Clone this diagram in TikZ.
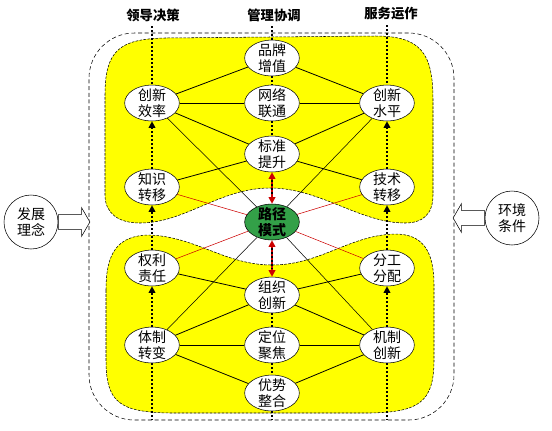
\documentclass[tikz,border=0pt]{standalone}
\usepackage{fontspec}
\newfontfamily\cjk{Noto Sans CJK SC}
\usepackage{tikz}
\usetikzlibrary{positioning, shapes.geometric, shapes.arrows, arrows.meta}
\definecolor{blobyellow}{RGB}{255, 255, 0}
\definecolor{coregreen}{RGB}{51, 160, 72}
\definecolor{linkred}{RGB}{204, 0, 0}

\begin{document}
\begin{tikzpicture}[
    x=0.75pt, y=-0.75pt,
    font=\cjk\fontsize{10.5}{12}\selectfont,
    factor/.style={ellipse, draw=black, fill=white, thin, minimum width=41pt, minimum height=27pt, inner xsep=0pt, inner ysep=-2pt, align=center},
    core/.style={factor, fill=coregreen, font=\cjk\fontsize{10.5}{12}\selectfont\bfseries},
    outside/.style={circle, draw=black, fill=white, thin, minimum size=40.5pt, inner sep=0pt, align=center},
    push/.style={single arrow, draw=black, fill=white, thin, minimum height=23.5pt, inner sep=5.5pt, single arrow head extend=5pt, single arrow tip angle=120},
    heading/.style={font=\cjk\fontsize{10}{12}\selectfont\bfseries},
    blob/.style={fill=blobyellow, draw=black, thin, dash pattern=on 2pt off 1pt},
    frame/.style={rectangle, draw=black, thin, dash pattern=on 3pt off 2pt, rounded corners=34pt, minimum width=273.75pt, minimum height=290.25pt},
    link/.style={line width=0.6pt},
    spoke/.style={thin},
    redspoke/.style={thin, draw=linkred},
    axis/.style={line width=1.5pt, dash pattern=on 1.5pt off 1.5pt},
    climb/.style={axis, -{Triangle[length=5pt, width=5pt]}},
    redaxis/.style={line width=1.5pt, draw=linkred, {Triangle[length=5pt, width=5pt]}-{Triangle[length=5pt, width=5pt]}}
]
    \useasboundingbox (0,0) rectangle (552,430);

    % yellow areas
    \path[blob] (105,95) .. controls (105,50) and (120,39) .. (165,38) -- (375,36)
        .. controls (420,36) and (433,52) .. (433,100) -- (433,195)
        .. controls (433,215) and (422,223) .. (405,223)
        .. controls (360,223) and (320,188) .. (270,188)
        .. controls (220,188) and (185,223) .. (140,223)
        .. controls (118,223) and (105,213) .. (105,195) -- cycle;
    \path[blob] (106,290) .. controls (106,252) and (118,236) .. (148,235)
        .. controls (195,236) and (225,265) .. (272,265)
        .. controls (320,265) and (350,235) .. (395,234)
        .. controls (422,234) and (434,250) .. (434,285) -- (434,360)
        .. controls (434,403) and (418,412) .. (370,413) -- (170,413)
        .. controls (120,412) and (106,403) .. (106,360) -- cycle;

    \node[frame] (frame) at (271.5,226.5) {};

    \node[heading] (lead) at (153,15) {领导决策};
    \node[heading] (manage) at (274,15) {管理协调};
    \node[heading] (serve) at (391,14) {服务运作};

    \node[factor] (pinpai) at (272,58) {品牌\\增值};
    \node[factor] (xiaolv) at (152,103) {创新\\效率};
    \node[factor] (wangluo) at (272,103) {网络\\联通};
    \node[factor] (shuiping) at (387,103) {创新\\水平};
    \node[factor] (biaozhun) at (272,154) {标准\\提升};
    \node[factor] (zhishi) at (152,187) {知识\\转移};
    \node[factor] (jishu) at (387,187) {技术\\转移};
    \node[core] (lujing) at (272,222) {路径\\模式};
    \node[factor] (quanli) at (152,268) {权利\\责任};
    \node[factor] (fengong) at (387,268) {分工\\分配};
    \node[factor] (zuzhi) at (272,295) {组织\\创新};
    \node[factor] (tizhi) at (152,345) {体制\\转变};
    \node[factor] (dingwei) at (272,345) {定位\\聚焦};
    \node[factor] (jizhi) at (387,345) {机制\\创新};
    \node[factor] (youshi) at (272,393) {优势\\整合};

    \node[outside] (devidea) at (31,222) {发展\\理念};
    \node[outside] (envcond) at (512,218) {环境\\条件};
    \node[push, right=0pt of devidea] (devpush) {};
    \node[push, shape border rotate=180, left=0pt of envcond] (envpush) {};

    % upper net
    \draw[link] (pinpai) -- (xiaolv);
    \draw[link] (pinpai) -- (shuiping);
    \draw[link] (xiaolv) -- (wangluo);
    \draw[link] (wangluo) -- (shuiping);
    \draw[link] (xiaolv) -- (biaozhun);
    \draw[link] (shuiping) -- (biaozhun);
    \draw[link] (biaozhun) -- (zhishi);
    \draw[link] (biaozhun) -- (jishu);

    % lower net
    \draw[link] (zuzhi) -- (quanli);
    \draw[link] (zuzhi) -- (fengong);
    \draw[link] (zuzhi) -- (tizhi);
    \draw[link] (zuzhi) -- (jizhi);
    \draw[link] (tizhi) -- (dingwei);
    \draw[link] (dingwei) -- (jizhi);
    \draw[link] (tizhi) -- (youshi);
    \draw[link] (jizhi) -- (youshi);

    % spokes to the core
    \draw[spoke] (xiaolv) -- (lujing);
    \draw[spoke] (shuiping) -- (lujing);
    \draw[spoke] (tizhi) -- (lujing);
    \draw[spoke] (jizhi) -- (lujing);
    \draw[redspoke] (zhishi) -- (lujing);
    \draw[redspoke] (jishu) -- (lujing);
    \draw[redspoke] (quanli) -- (lujing);
    \draw[redspoke] (fengong) -- (lujing);

    % dotted axes
    \draw[axis] (lead.south -| xiaolv) -- (xiaolv);
    \draw[axis] (manage.south -| pinpai) -- (pinpai);
    \draw[axis] (serve.south -| shuiping) -- (shuiping);
    \draw[axis] (pinpai) -- (wangluo);
    \draw[axis] (wangluo) -- (biaozhun);
    \draw[axis] (zuzhi) -- (dingwei);
    \draw[axis] (dingwei) -- (youshi);
    \draw[axis] (tizhi) -- (tizhi |- frame.south);
    \draw[axis] (youshi) -- (youshi |- frame.south);
    \draw[axis] (jizhi) -- (jizhi |- frame.south);

    \draw[climb] (zhishi) -- (xiaolv);
    \draw[climb] (quanli) -- (zhishi);
    \draw[climb] (tizhi) -- (quanli);
    \draw[climb] (jishu) -- (shuiping);
    \draw[climb] (fengong) -- (jishu);
    \draw[climb] (jizhi) -- (fengong);

    \draw[redaxis] (biaozhun) -- (lujing);
    \draw[redaxis] (lujing) -- (zuzhi);
    \draw[line width=1pt, dash pattern=on 1.5pt off 1.5pt, shorten <=6pt, shorten >=6pt] (biaozhun) -- (lujing);
    \draw[line width=1pt, dash pattern=on 1.5pt off 1.5pt, shorten <=6pt, shorten >=6pt] (lujing) -- (zuzhi);
\end{tikzpicture}
\end{document}
